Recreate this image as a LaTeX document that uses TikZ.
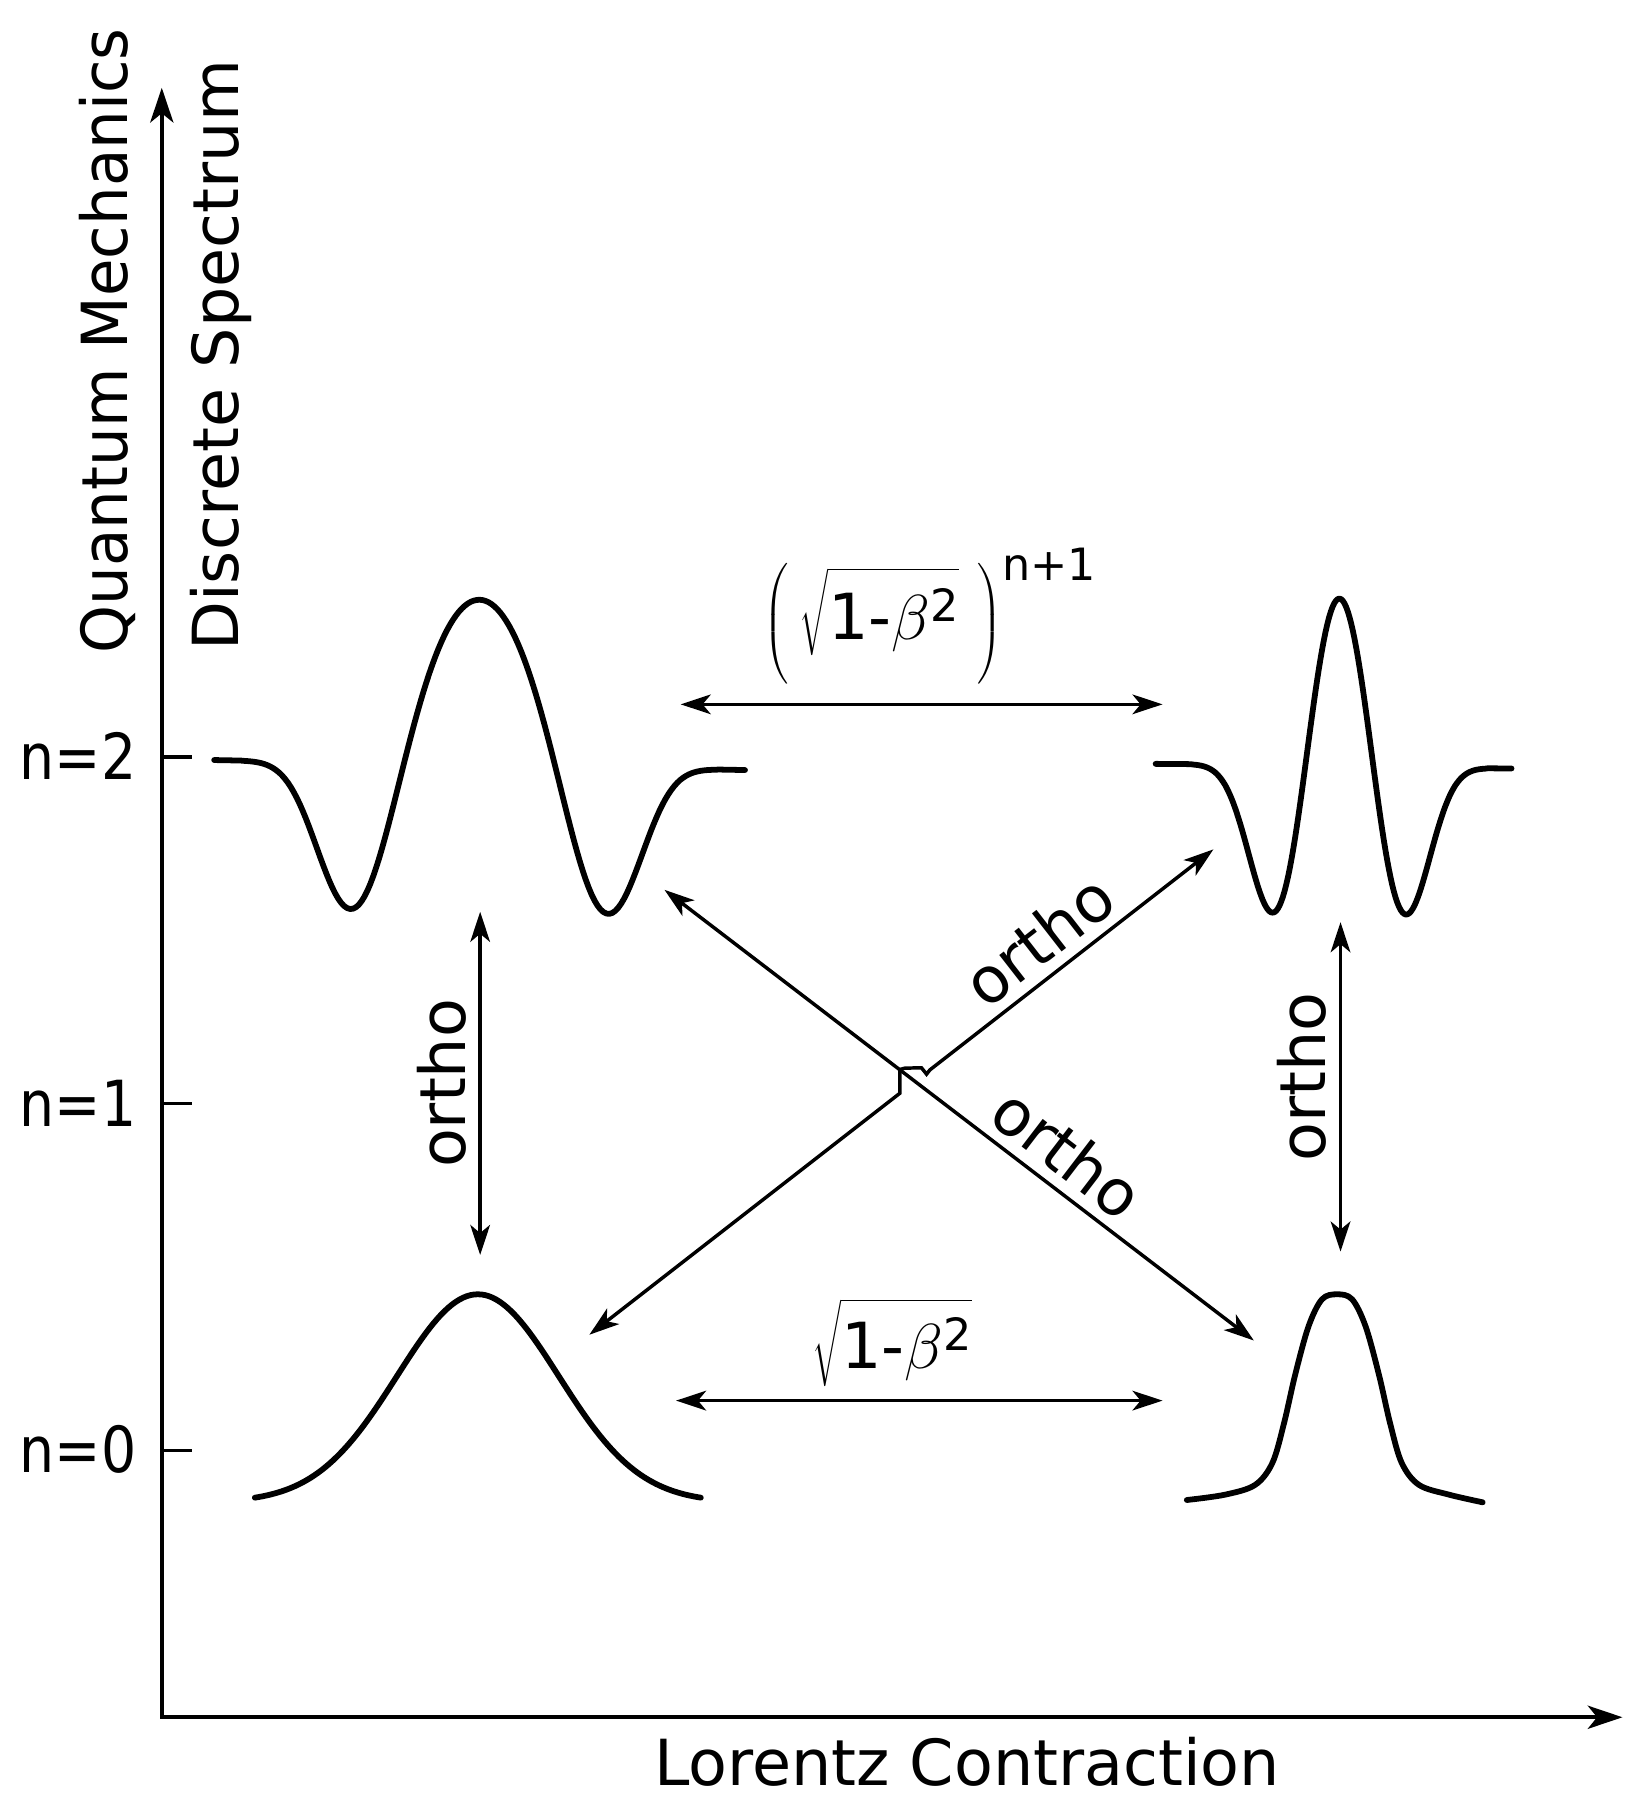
\RequirePackage{fix-cm}
\documentclass[tikz,border=0pt]{standalone}
\usepackage{amsmath}
\usepackage{graphicx}
\usepackage{fontspec}
\setmainfont{DejaVu Sans}
\usetikzlibrary{arrows.meta}
\begin{document}
\begin{tikzpicture}[x=1pt,y=-1pt,
  every node/.style={font=\fontsize{55}{66}\selectfont, inner sep=0pt, outer sep=0pt},
  curve/.style={line width=5pt, line cap=round, line join=round},
  axisline/.style={line width=3.5pt, line join=miter,
     {Stealth[length=30pt,width=20pt,inset=8pt]}-{Stealth[length=30pt,width=20pt,inset=8pt]}},
  tickline/.style={line width=3pt},
  dbl/.style={line width=3pt, line join=miter,
     {Stealth[length=26pt,width=17pt,inset=7pt]}-{Stealth[length=26pt,width=17pt,inset=7pt]}}
]
\fill[white] (0,0) rectangle (1423,1568);
\useasboundingbox (0,0) rectangle (1423,1568);

% axes
\coordinate (ytop) at (140,76);
\coordinate (orig) at (140,1486);
\coordinate (xend) at (1404,1486);
\draw[axisline] (ytop) -- (orig) -- (xend);

% ticks and level labels
\foreach \yy/\nn/\nm in {655/2/tb, 955/1/tm, 1255/0/ta} {
  \coordinate (\nm) at (140,\yy);
  \draw[tickline] (\nm) -- ++(26,0);
  \node[anchor=base east] (lab\nm) at (118,\yy+19.5) {\scalebox{0.87}[1]{n=\nn}};
}

% axis titles
\node[rotate=90, anchor=base] (qm) at (110,295) {\scalebox{0.96}[1]{Quantum Mechanics}};
\node[rotate=90, anchor=base] (ds) at (206,307.5) {Discrete Spectrum};
\node[anchor=base west] (lc) at (566,1545) {Lorentz Contraction};

% n=2 wave functions
\draw[curve] plot[domain=-2.06:2.06, samples=181]
  ({415+111.5*\x}, {662+2.1*\x-143*(1-2.9*(\x)*(\x))*exp(-0.763*(\x)*(\x)*(\x)*(\x))});
\draw[curve] (1000,661) -- plot[domain=-2.3:2.3, samples=181]
  ({1159+57.8*\x}, {663+0.8*\x-145*(1-3.85*(\x)*(\x))*exp(-(\x)*(\x)-0.1754*(\x)*(\x)*(\x)*(\x))}) -- (1308,665);

% n=0 wave functions
\draw[curve] plot[domain=-2.757:2.757, samples=121]
  ({413.5+70*\x}, {1120+180*(1-exp(-0.5*(\x)*(\x)))});
\draw[curve] plot[smooth, tension=0.55] coordinates {
  (1027,1298) (1060,1293.4) (1086,1285) (1101,1266) (1111,1232) (1120.9,1189)
  (1132.4,1147.5) (1144,1124.3) (1157,1120) (1170,1124.3) (1181.6,1147.5)
  (1193.1,1189) (1203,1232) (1213,1266) (1228,1285) (1254,1293.4) (1283,1300)};

% horizontal arrows
\coordinate (hta) at (589,609.5);
\coordinate (htb) at (1006,609.5);
\draw[dbl] (hta) -- (htb);
\node (toplab) at (805,533) {$\left(\,\sqrt{\rule{0pt}{56pt}\text{1-}\beta^{\text{2}}}\;\right)^{\text{n+1}}$};

\coordinate (hba) at (585,1212);
\coordinate (hbb) at (1006,1212);
\draw[dbl] (hba) -- (hbb);
\node (botlab) at (772,1162) {$\sqrt{\rule{0pt}{52pt}\text{1-}\beta^{\text{2}}}$};

% vertical arrows
\coordinate (vla) at (415.5,789);
\coordinate (vlb) at (415.5,1086);
\draw[dbl] (vlb) -- node[sloped, above=12pt, pos=0.5] (olab1) {ortho} (vla);

\coordinate (vra) at (1160,798);
\coordinate (vrb) at (1160,1083);
\draw[dbl] (vrb) -- node[sloped, above=12pt, pos=0.53] (olab2) {ortho} (vra);

% diagonal arrows
\coordinate (da1) at (575,770);
\coordinate (da2) at (1085,1160);
\draw[dbl] (da1) -- node[sloped, above=10pt, pos=0.647] (olab3) {ortho} (da2);

\coordinate (db1) at (510,1155);
\coordinate (db2) at (1050,735);
\coordinate (hop1) at (778.6,946.1);
\coordinate (hop2) at (778.6,925.5);
\coordinate (hop3) at (783,924.3);
\coordinate (hop4) at (797.4,924);
\coordinate (hop5) at (801.8,929.5);
\coordinate (hop6) at (804.7,925.8);
\draw[dbl] (db1) -- (hop1) -- (hop2) -- (hop3) -- (hop4) -- (hop5) -- (hop6)
  -- node[sloped, above=10pt, pos=0.461] (olab4) {ortho} (db2);
\end{tikzpicture}
\end{document}
